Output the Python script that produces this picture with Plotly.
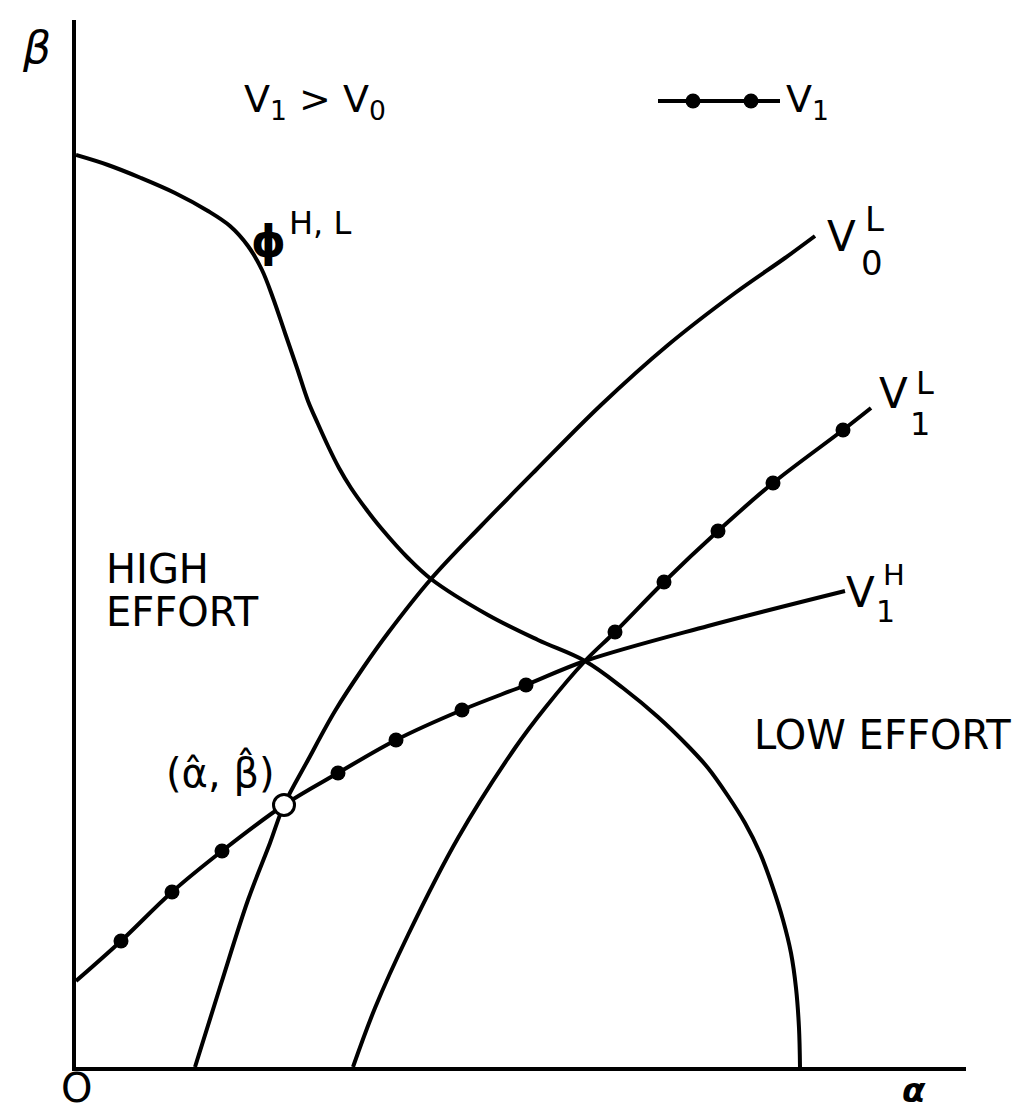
import plotly.graph_objects as go

# curves (alpha, beta in arbitrary units)
phi_alpha = [0, 0.32, 0.65, 0.99, 1.32, 1.54, 1.72, 1.86, 1.97, 2.09, 2.21, 2.32, 2.42, 2.52, 2.63, 2.75,
             2.90, 3.05, 3.32, 3.55, 4.12, 4.62, 5.09, 5.47, 5.82, 6.12, 6.32, 6.52, 6.69, 6.84, 6.97,
             7.07, 7.15, 7.20, 7.23, 7.24]
phi_beta = [9.12, 9.02, 8.89, 8.74, 8.56, 8.41, 8.21, 7.97, 7.69, 7.34, 6.99, 6.66, 6.43, 6.21, 5.99, 5.79,
            5.58, 5.39, 5.09, 4.88, 4.52, 4.27, 4.06, 3.79, 3.50, 3.21, 2.99, 2.71, 2.44, 2.14, 1.79,
            1.47, 1.14, 0.79, 0.39, 0]

v0l_alpha = [1.19, 1.45, 1.72, 1.94, 2.08, 2.32, 2.59, 2.87, 3.12, 3.55, 4.05, 4.59, 5.25, 5.92, 6.59, 7.09, 7.39]
v0l_beta = [0, 0.83, 1.67, 2.24, 2.62, 3.07, 3.56, 3.99, 4.34, 4.88, 5.41, 5.96, 6.62, 7.22, 7.74, 8.09, 8.31]

v1l_alpha = [2.77, 2.99, 3.32, 3.82, 4.39, 4.69, 5.09, 5.39, 5.88, 6.42, 6.97, 7.67, 7.95]
v1l_beta = [0, 0.59, 1.32, 2.29, 3.19, 3.59, 4.06, 4.35, 4.85, 5.36, 5.84, 6.37, 6.59]

v1h_alpha = [0, 0.45, 0.96, 1.46, 2.08, 2.62, 3.20, 3.86, 4.50, 5.09, 6.32, 7.69]
v1h_beta = [0.86, 1.26, 1.75, 2.16, 2.62, 2.94, 3.27, 3.57, 3.82, 4.06, 4.41, 4.76]

# dots marking the V1 envelope
v1_dot_alpha = [0.45, 0.96, 1.46, 2.62, 3.20, 3.86, 4.50, 5.39, 5.88, 6.42, 6.97, 7.67]
v1_dot_beta = [1.26, 1.75, 2.16, 2.94, 3.27, 3.57, 3.82, 4.35, 4.85, 5.36, 5.84, 6.37]

hat_alpha = [2.08]
hat_beta = [2.62]

# key sample (top right)
key_alpha = [5.82, 7.04]
key_beta = [9.66, 9.66]
key_dot_alpha = [6.17, 6.75]

X_MAX = 8.90
Y_MAX = 10.47
LW = 4
FONT = "DejaVu Sans"

fig = go.Figure()

def curve(a, b):
    fig.add_trace(go.Scatter(x=a, y=b, mode="lines",
                             line=dict(color="black", width=LW, shape="spline", smoothing=1.0),
                             cliponaxis=False, hoverinfo="skip"))

curve(phi_alpha, phi_beta)
curve(v0l_alpha, v0l_beta)
curve(v1l_alpha, v1l_beta)
curve(v1h_alpha, v1h_beta)

fig.add_trace(go.Scatter(x=v1_dot_alpha, y=v1_dot_beta, mode="markers",
                         marker=dict(color="black", size=15), cliponaxis=False))
fig.add_trace(go.Scatter(x=hat_alpha, y=hat_beta, mode="markers",
                         marker=dict(color="white", size=21, line=dict(color="black", width=3)), cliponaxis=False))

# key
fig.add_trace(go.Scatter(x=key_alpha, y=key_beta, mode="lines", line=dict(color="black", width=LW), cliponaxis=False))
fig.add_trace(go.Scatter(x=key_dot_alpha, y=key_beta, mode="markers", marker=dict(color="black", size=15), cliponaxis=False))

# texts placed in paper coords (so ones outside the axes still show)
def txt(x, y, s, size=40, xanchor="center", yanchor="middle"):
    fig.add_annotation(x=x / X_MAX, y=y / Y_MAX, xref="paper", yref="paper", text=s, showarrow=False,
                       xanchor=xanchor, yanchor=yanchor,
                       font=dict(family=FONT, size=size, color="black"))

txt(-0.40, 10.20, "<i>β</i>", size=44)
txt(0, -0.21, "O", size=40)
txt(8.38, -0.23, "<b><i>α</i></b>", size=34)

txt(1.66, 9.66, "V<sub>1</sub> > V<sub>0</sub>", size=38, xanchor="left")
txt(7.08, 9.66, "V<sub>1</sub>", size=38, xanchor="left")

txt(7.65, 8.30, "V", size=42)
txt(7.98, 8.48, "L", size=34)
txt(7.96, 8.04, "0", size=34)

txt(8.18, 6.74, "V", size=42)
txt(8.49, 6.84, "L", size=32)
txt(8.44, 6.43, "1", size=32)

txt(7.85, 4.75, "V", size=42)
txt(8.18, 4.92, "H", size=29)
txt(8.10, 4.56, "1", size=30)

txt(1.92, 8.26, "<b>ϕ</b>", size=44)
txt(2.44, 8.44, "H, L", size=32)

txt(0.28, 4.98, "HIGH", xanchor="left")
txt(0.28, 4.55, "EFFORT", xanchor="left")
txt(8.06, 3.32, "LOW EFFORT")

txt(1.45, 2.96, "(α\u0302, β\u0302)", size=40)

ax = dict(showline=True, linecolor="black", linewidth=LW, showgrid=False, zeroline=False,
          showticklabels=False, ticks="", fixedrange=True)
fig.update_layout(
    width=1028, height=1112,
    margin=dict(l=68, r=70, t=12, b=53),
    paper_bgcolor="white", plot_bgcolor="white",
    showlegend=False,
    xaxis=dict(range=[0, X_MAX], **ax),
    yaxis=dict(range=[0, Y_MAX], **ax),
)

fig.write_html("out.html")
